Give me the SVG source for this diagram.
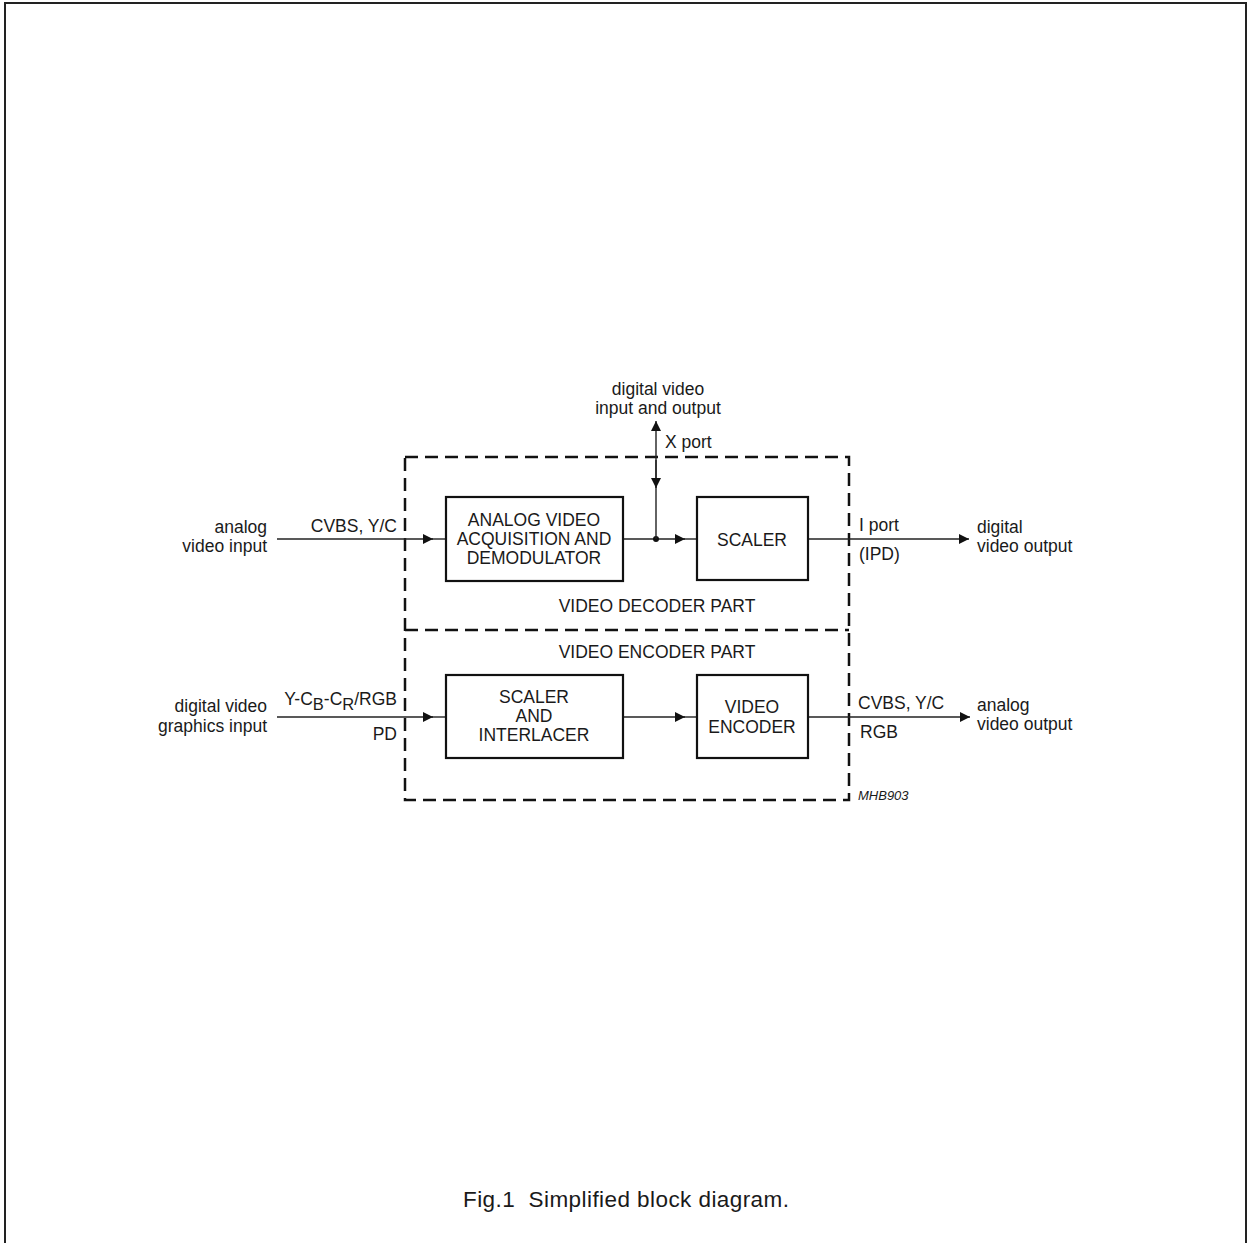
<svg xmlns="http://www.w3.org/2000/svg" width="1247" height="1243" viewBox="0 0 1247 1243">
<style>
text{font-family:"Liberation Sans",Arial,sans-serif;font-size:17.5px;fill:#1a1a1a}
.c{text-anchor:middle}
.e{text-anchor:end}
.box{fill:#fff;stroke:#111;stroke-width:2.2}
.dash{fill:none;stroke:#111;stroke-width:2.5;stroke-dasharray:13 7}
.ln{fill:none;stroke:#222;stroke-width:1.4}
.frame{fill:none;stroke:#222;stroke-width:2}
</style>
<defs>
<marker id="ah" viewBox="0 0 10 10" refX="10" refY="5" markerWidth="11" markerHeight="10" markerUnits="userSpaceOnUse" orient="auto">
<path d="M0,0 L10,5 L0,10 z" fill="#111"/>
</marker>
</defs>
<path class="frame" d="M5,1243 V3 H1246 V1243"/>

<g id="containers">
<rect class="dash" x="405" y="457" width="444" height="343"/>
<line class="dash" x1="405" y1="630" x2="849" y2="630"/>
<text class="c" x="657" y="612">VIDEO DECODER PART</text>
<text class="c" x="657" y="658">VIDEO ENCODER PART</text>
</g>

<g id="connectors">
<line class="ln" x1="277" y1="539" x2="433" y2="539" marker-end="url(#ah)"/>
<line class="ln" x1="432" y1="539" x2="446" y2="539"/>
<line class="ln" x1="623" y1="539" x2="685" y2="539" marker-end="url(#ah)"/>
<line class="ln" x1="684" y1="539" x2="697" y2="539"/>
<circle cx="656" cy="539" r="3" fill="#111"/>
<line class="ln" x1="656" y1="539" x2="656" y2="421" marker-end="url(#ah)"/>
<line class="ln" x1="656" y1="460" x2="656" y2="488" marker-end="url(#ah)"/>
<line class="ln" x1="808" y1="539" x2="969" y2="539" marker-end="url(#ah)"/>
<line class="ln" x1="277" y1="717" x2="433" y2="717" marker-end="url(#ah)"/>
<line class="ln" x1="432" y1="717" x2="446" y2="717"/>
<line class="ln" x1="623" y1="717" x2="685" y2="717" marker-end="url(#ah)"/>
<line class="ln" x1="684" y1="717" x2="697" y2="717"/>
<line class="ln" x1="808" y1="717" x2="970" y2="717" marker-end="url(#ah)"/>
</g>

<g id="analog-acq">
<rect class="box" x="446" y="497" width="177" height="84"/>
<text class="c" x="534" y="526">ANALOG VIDEO</text>
<text class="c" x="534" y="545">ACQUISITION AND</text>
<text class="c" x="534" y="564">DEMODULATOR</text>
</g>
<g id="scaler">
<rect class="box" x="697" y="497" width="111" height="83"/>
<text class="c" x="752" y="546">SCALER</text>
</g>
<g id="scaler-interlacer">
<rect class="box" x="446" y="675" width="177" height="83"/>
<text class="c" x="534" y="703">SCALER</text>
<text class="c" x="534" y="722">AND</text>
<text class="c" x="534" y="741">INTERLACER</text>
</g>
<g id="video-encoder">
<rect class="box" x="697" y="675" width="111" height="83"/>
<text class="c" x="752" y="713">VIDEO</text>
<text class="c" x="752" y="733">ENCODER</text>
</g>

<g id="labels">
<text class="e" x="267" y="533">analog</text>
<text class="e" x="267" y="552">video input</text>
<text class="e" x="397" y="532">CVBS, Y/C</text>
<text class="c" x="658" y="395">digital video</text>
<text class="c" x="658" y="414">input and output</text>
<text x="665" y="448">X port</text>
<text x="859" y="531">I port</text>
<text x="859" y="560">(IPD)</text>
<text x="977" y="533">digital</text>
<text x="977" y="552">video output</text>
<text class="e" x="267" y="712">digital video</text>
<text class="e" x="267" y="732">graphics input</text>
<text class="e" x="397" y="705">Y-C<tspan dy="5" font-size="16.5">B</tspan><tspan dy="-5">-C</tspan><tspan dy="5" font-size="16.5">R</tspan><tspan dy="-5">/RGB</tspan></text>
<text class="e" x="397" y="740">PD</text>
<text x="858" y="709">CVBS, Y/C</text>
<text x="860" y="738">RGB</text>
<text x="977" y="711">analog</text>
<text x="977" y="730">video output</text>
<text x="858" y="800" style="font-size:13px;font-style:italic">MHB903</text>
<text x="463" y="1207" style="font-size:22.5px" textLength="326" lengthAdjust="spacing" xml:space="preserve">Fig.1  Simplified block diagram.</text>
</g>
</svg>
